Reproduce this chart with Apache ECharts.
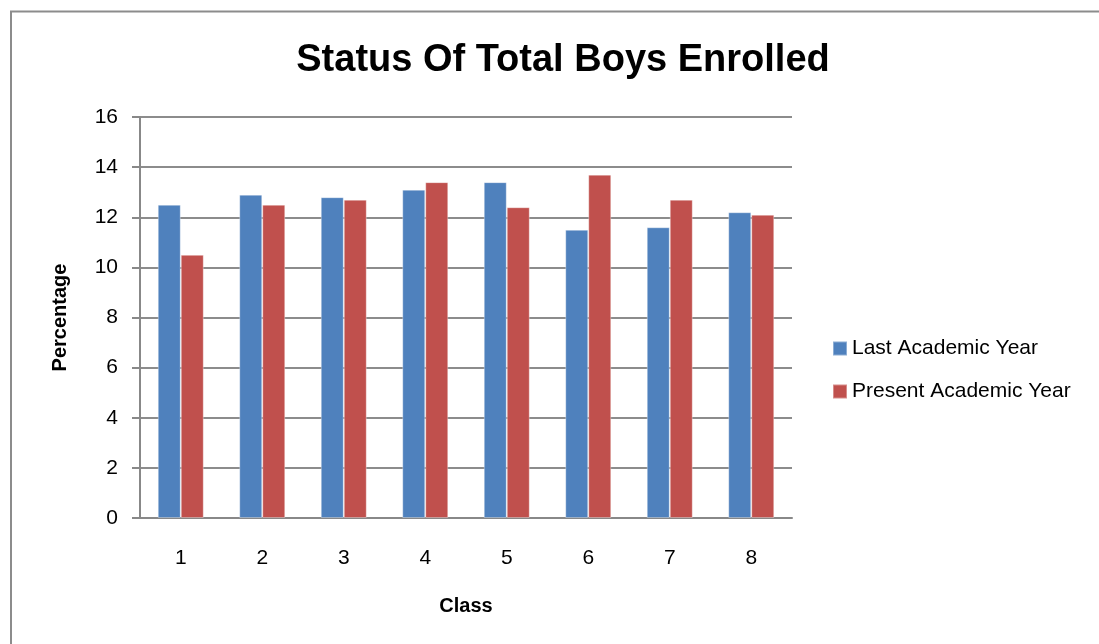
<!DOCTYPE html>
<html lang="en">

<head>
    <meta charset="UTF-8">
    <title>Status Of Total Boys Enrolled</title>
    <style>
        * {
            padding: 0;
            margin: 0;
        }
    </style>
</head>

<body>
    <div id="chart" style="width: 1099px; height: 644px;"></div>
    <script src="https://cdn.jsdelivr.net/npm/echarts@6/dist/echarts.min.js"></script>
    <script>
        let mychart = echarts.init(document.getElementById('chart'))

        const classes = ['1', '2', '3', '4', '5', '6', '7', '8']
        const lastYear = [12.5, 12.9, 12.8, 13.1, 13.4, 11.5, 11.6, 12.2]
        const presentYear = [10.5, 12.5, 12.7, 13.4, 12.4, 13.7, 12.7, 12.1]

        const plain = '"Liberation Sans", sans-serif'

        let options = {
            animation: false,
            backgroundColor: '#fff',
            // outer chart border
            graphic: [{
                type: 'rect',
                shape: { x: 11, y: 11.5, width: 1200, height: 1000 },
                style: { fill: 'none', stroke: '#8c8c8c', lineWidth: 2 }
            }],
            title: {
                text: 'Status Of Total Boys Enrolled',
                left: 558,
                textAlign: 'center',
                top: 37,
                textStyle: {
                    fontFamily: plain,
                    fontWeight: 'bold',
                    fontSize: 38,
                    color: '#000'
                }
            },
            grid: {
                left: 140,
                right: 307,
                top: 117,
                bottom: 126
            },
            legend: {
                orient: 'vertical',
                left: 827,
                top: 333,
                itemWidth: 14,
                itemHeight: 14,
                itemGap: 22,
                icon: 'rect',
                textStyle: {
                    fontFamily: plain,
                    fontSize: 21,
                    color: '#000',
                    padding: [0, 0, 0, 0]
                },
                data: ['Last Academic Year', 'Present Academic Year']
            },
            xAxis: {
                type: 'category',
                data: classes,
                name: 'Class',
                nameLocation: 'middle',
                nameGap: 78,
                nameTextStyle: {
                    fontFamily: plain,
                    fontWeight: 'bold',
                    fontSize: 20,
                    color: '#000'
                },
                axisLine: { lineStyle: { color: '#888', width: 2 } },
                axisTick: { show: false },
                axisLabel: {
                    margin: 30,
                    fontFamily: plain,
                    fontSize: 21,
                    color: '#000'
                }
            },
            yAxis: {
                type: 'value',
                min: 0,
                max: 16,
                interval: 2,
                name: 'Percentage',
                nameLocation: 'middle',
                nameGap: 70,
                nameTextStyle: {
                    fontFamily: plain,
                    fontWeight: 'bold',
                    fontSize: 20,
                    color: '#000'
                },
                axisLine: { show: true, lineStyle: { color: '#888', width: 2 } },
                axisTick: { show: true, length: 8, lineStyle: { color: '#888', width: 2 } },
                axisLabel: {
                    margin: 22,
                    fontFamily: plain,
                    fontSize: 21,
                    color: '#000'
                },
                splitLine: { lineStyle: { color: '#8c8c8c', width: 2 } }
            },
            series: [{
                name: 'Last Academic Year',
                type: 'bar',
                barWidth: 23,
                barGap: '0%',
                itemStyle: { color: '#4F81BD', borderColor: 'rgba(255,255,255,0.35)', borderWidth: 1 },
                data: lastYear
            }, {
                name: 'Present Academic Year',
                type: 'bar',
                barWidth: 23,
                barGap: '0%',
                itemStyle: { color: '#C0504D', borderColor: 'rgba(255,255,255,0.35)', borderWidth: 1 },
                data: presentYear
            }]
        }

        mychart.setOption(options);
    </script>
</body>

</html>
